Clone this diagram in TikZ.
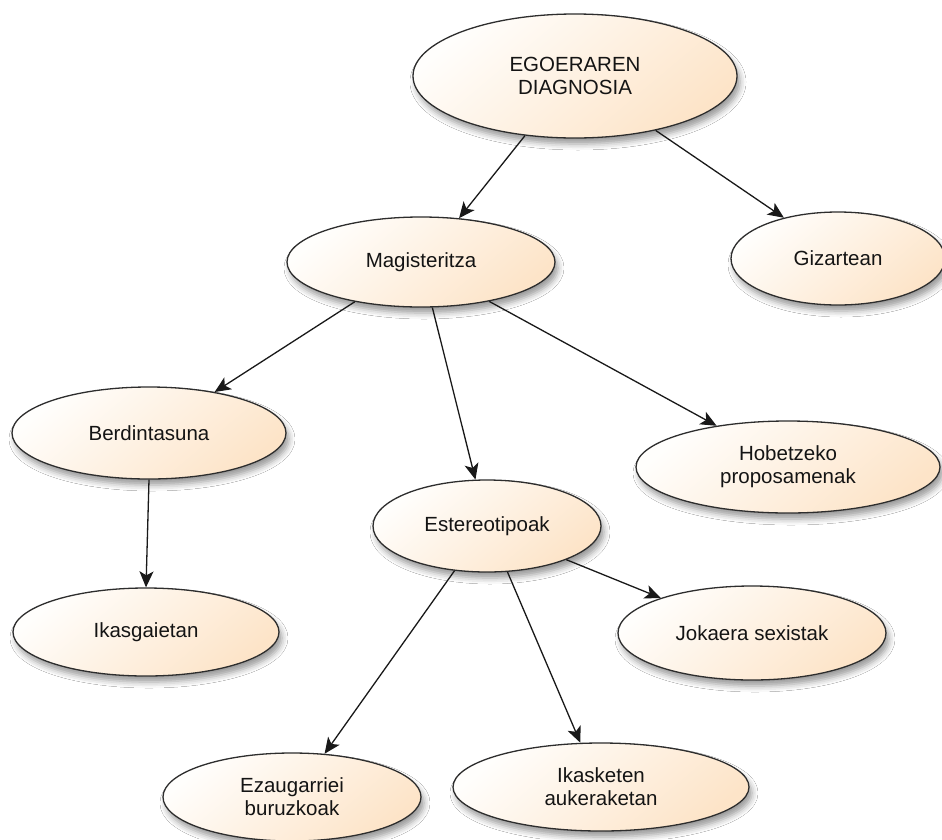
\documentclass[tikz,border=0pt]{standalone}
\usepackage{fontspec}
\setmainfont{Liberation Sans}
\usetikzlibrary{arrows.meta,shapes.geometric,shadows.blur}
\definecolor{peachA}{RGB}{255,254,252}
\definecolor{peachB}{RGB}{253,228,200}
\definecolor{edgegray}{RGB}{45,45,45}
\definecolor{textgray}{RGB}{20,20,20}
\tikzset{
  bubble/.style={ellipse, draw=edgegray, line width=1.3pt, inner sep=0pt,
    top color=peachA, bottom color=peachB, shading angle=40,
    blur shadow={shadow xshift=3pt, shadow yshift=-6pt, shadow blur radius=6pt, shadow opacity=40},
    text=textgray, align=center, font=\fontsize{20.5}{23}\selectfont},
  link/.style={draw=black!90, line width=1.3pt, -{Stealth[length=16pt,width=14pt,inset=4pt]}}
}
\begin{document}
\begin{tikzpicture}[x=1pt,y=-1pt]
\fill[white] (0,0) rectangle (942,839);
\useasboundingbox (0,0) rectangle (942,839);
\node[bubble, minimum width=324pt, minimum height=124pt] (A) at (575,76) {EGOERAREN\\DIAGNOSIA};
\node[bubble, minimum width=268pt, minimum height=90pt] (B) at (421,262) {Magisteritza};
\node[bubble, minimum width=214pt, minimum height=93pt] (C) at (838,258.5) {Gizartean};
\node[bubble, minimum width=274pt, minimum height=92pt] (D) at (149,433) {Berdintasuna};
\node[bubble, minimum width=304pt, minimum height=92pt] (E) at (788,467) {Hobetzeko\\proposamenak};
\node[bubble, minimum width=228pt, minimum height=92pt] (F) at (487,526) {Estereotipoak};
\node[bubble, minimum width=266pt, minimum height=88pt] (G) at (146,632) {Ikasgaietan};
\node[bubble, minimum width=268pt, minimum height=94pt] (H) at (752,633) {Jokaera sexistak};
\node[bubble, minimum width=258pt, minimum height=88pt] (I) at (292,797) {Ezaugarriei\\buruzkoak};
\node[bubble, minimum width=296pt, minimum height=88pt] (J) at (601,787) {Ikasketen\\aukeraketan};
\draw[link] (A.230.8) -- (B.49.9);
\draw[link] (A.326) -- (C.143);
\draw[link] (B.211.8) -- (D.32.4);
\draw[link] (B.284.9) -- (F.104.6);
\draw[link] (B.330.6) -- (E.150.6);
\draw[link] (D.270) -- (G.90);
\draw[link] (F.337.7) -- (H.159.2);
\draw[link] (F.234.1) -- (I.53.7);
\draw[link] (F.294.1) -- (J.115);
\end{tikzpicture}
\end{document}
